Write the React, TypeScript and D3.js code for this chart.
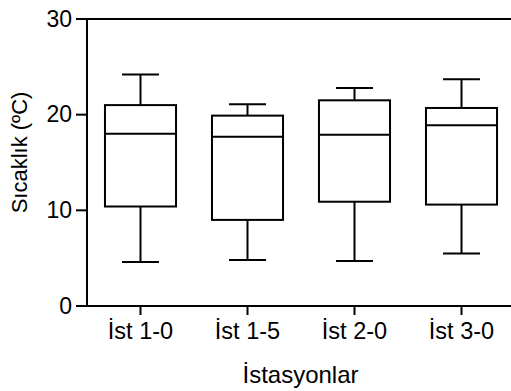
import React from 'react';
import * as d3 from 'd3';

const stations = ['İst 1-0', 'İst 1-5', 'İst 2-0', 'İst 3-0'];
const whiskerLow = [4.6, 4.8, 4.7, 5.5];
const q1 = [10.4, 9.0, 10.9, 10.6];
const median = [18.0, 17.7, 17.9, 18.9];
const q3 = [21.0, 19.9, 21.5, 20.7];
const whiskerHigh = [24.2, 21.1, 22.8, 23.7];
const yTicks = [0, 10, 20, 30];

const W = 511;
const H = 391;
const FONT = '"Liberation Sans", Arial, sans-serif';

export default function App() {
  const x = d3.scaleBand<string>().domain(stations).range([87, 515]).paddingInner(0.336).paddingOuter(0.168);
  const y = d3.scaleLinear().domain([0, 30]).range([306, 19]);
  const bw = x.bandwidth();
  const cap = bw * 0.52;

  return (
    <svg width={W} height={H} style={{ position: 'absolute', left: 0, top: 0 }} fontFamily={FONT}>
      <rect x={0} y={0} width={W} height={H} fill="#fff" />
      {/* frame */}
      <line x1={87} x2={515} y1={y(30)} y2={y(30)} stroke="#000" strokeWidth={2} />
      <line x1={87} x2={515} y1={y(0)} y2={y(0)} stroke="#000" strokeWidth={2} />
      <line x1={87} x2={87} y1={y(30)} y2={y(0)} stroke="#000" strokeWidth={2} />

      {yTicks.map(t => (
        <g key={t}>
          <line x1={76} x2={87} y1={y(t)} y2={y(t)} stroke="#000" strokeWidth={2} />
          <text x={72} y={y(t)} dy="0.33em" textAnchor="end" fontSize={23}>{t}</text>
        </g>
      ))}

      {stations.map((s, i) => {
        const left = x(s)!;
        const cx = left + bw / 2;
        return (
          <g key={s} stroke="#000" strokeWidth={2} fill="none">
            <line x1={cx} x2={cx} y1={y(whiskerHigh[i])} y2={y(q3[i])} />
            <line x1={cx - cap / 2} x2={cx + cap / 2} y1={y(whiskerHigh[i])} y2={y(whiskerHigh[i])} />
            <line x1={cx} x2={cx} y1={y(q1[i])} y2={y(whiskerLow[i])} />
            <line x1={cx - cap / 2} x2={cx + cap / 2} y1={y(whiskerLow[i])} y2={y(whiskerLow[i])} />
            <rect x={left} y={y(q3[i])} width={bw} height={y(q1[i]) - y(q3[i])} fill="#fff" />
            <line x1={left} x2={left + bw} y1={y(median[i])} y2={y(median[i])} />
            <line x1={cx} x2={cx} y1={y(0)} y2={y(0) + 9} />
            <text x={cx} y={339} textAnchor="middle" fontSize={23.5} stroke="none" fill="#000">{s}</text>
          </g>
        );
      })}

      <text x={300.5} y={382.5} textAnchor="middle" fontSize={24}>İstasyonlar</text>
      <text transform="translate(27,152.5) rotate(-90)" textAnchor="middle" fontSize={22}>Sıcaklık (ºC)</text>
    </svg>
  );
}
